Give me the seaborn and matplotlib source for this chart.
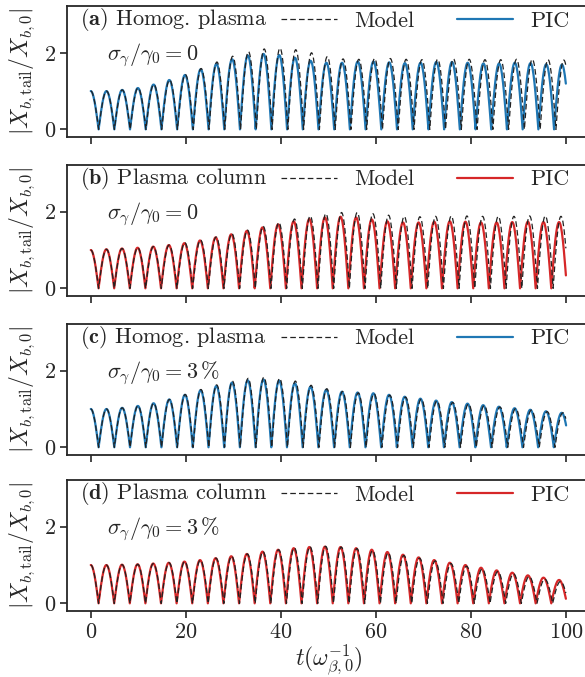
import matplotlib
matplotlib.use("Agg")
import matplotlib.pyplot as plt
import seaborn as sns
import pandas as pd
import numpy as np

# Peak heights of each |X| hump (31 humps, t = 0 ... ~99)
pic_a = [1.00, 1.00, 1.03, 1.08, 1.17, 1.29, 1.42, 1.57, 1.71, 1.83, 1.93, 1.97, 1.94, 1.87, 1.79, 1.74,
         1.74, 1.77, 1.77, 1.75, 1.73, 1.74, 1.76, 1.76, 1.74, 1.72, 1.72, 1.74, 1.73, 1.70, 1.69]
model_a = [1.00, 1.00, 1.03, 1.08, 1.17, 1.29, 1.43, 1.59, 1.76, 1.91, 2.03, 2.10, 2.12, 2.08, 2.00, 1.90,
           1.84, 1.83, 1.85, 1.85, 1.83, 1.82, 1.83, 1.84, 1.83, 1.82, 1.82, 1.83, 1.83, 1.82, 1.81]
pic_b = [1.00, 1.02, 1.04, 1.06, 1.09, 1.13, 1.18, 1.25, 1.33, 1.41, 1.50, 1.59, 1.67, 1.75, 1.81, 1.85,
         1.87, 1.85, 1.80, 1.75, 1.72, 1.72, 1.74, 1.75, 1.74, 1.72, 1.72, 1.73, 1.74, 1.73, 1.73]
model_b = [1.00, 1.02, 1.04, 1.06, 1.09, 1.13, 1.19, 1.26, 1.34, 1.43, 1.52, 1.62, 1.72, 1.81, 1.89, 1.95,
           1.98, 1.98, 1.95, 1.91, 1.88, 1.87, 1.88, 1.89, 1.89, 1.88, 1.88, 1.88, 1.89, 1.89, 1.88]
pic_c = [1.00, 1.00, 1.03, 1.08, 1.15, 1.25, 1.37, 1.49, 1.60, 1.69, 1.75, 1.77, 1.74, 1.67, 1.58, 1.50,
         1.45, 1.43, 1.41, 1.37, 1.32, 1.27, 1.22, 1.18, 1.14, 1.10, 1.06, 1.02, 0.98, 0.94, 0.90]
model_c = [1.00, 1.00, 1.03, 1.08, 1.15, 1.25, 1.38, 1.51, 1.63, 1.73, 1.80, 1.83, 1.80, 1.73, 1.62, 1.53,
           1.46, 1.42, 1.40, 1.36, 1.31, 1.26, 1.21, 1.17, 1.13, 1.09, 1.05, 1.01, 0.97, 0.93, 0.90]
pic_d = [1.00, 1.00, 1.01, 1.02, 1.04, 1.06, 1.09, 1.13, 1.18, 1.23, 1.29, 1.35, 1.40, 1.44, 1.47, 1.48,
         1.47, 1.44, 1.40, 1.34, 1.27, 1.20, 1.13, 1.06, 1.00, 0.93, 0.86, 0.80, 0.73, 0.67, 0.61]
model_d = [1.00, 1.00, 1.01, 1.02, 1.04, 1.06, 1.09, 1.13, 1.18, 1.23, 1.29, 1.35, 1.40, 1.45, 1.48, 1.49,
           1.47, 1.43, 1.38, 1.32, 1.25, 1.18, 1.11, 1.04, 0.97, 0.90, 0.83, 0.77, 0.70, 0.63, 0.57]

# time of the last hump peak for each series
last_peak_pic = [99.1, 98.5, 99.05, 98.5]
last_peak_model = [99.5, 98.9, 99.3, 98.8]

# shape of half a hump (peak -> zero)
half_hump = [1.0, 0.9952, 0.9808, 0.9569, 0.9239, 0.8819, 0.8315, 0.7730, 0.7071,
             0.6344, 0.5556, 0.4714, 0.3827, 0.2903, 0.1951, 0.0980, 0.0]

labels = [r"$\mathbf{(a)}$ Homog. plasma", r"$\mathbf{(b)}$ Plasma column",
          r"$\mathbf{(c)}$ Homog. plasma", r"$\mathbf{(d)}$ Plasma column"]
sigma_labels = [r"$\sigma_\gamma/\gamma_0 = 0$", r"$\sigma_\gamma/\gamma_0 = 0$",
                r"$\sigma_\gamma/\gamma_0 = 3\,\%$", r"$\sigma_\gamma/\gamma_0 = 3\,\%$"]
pic_colors = ["#1f77b4", "#d62728", "#1f77b4", "#d62728"]
t_end = 100


def humps(peaks, t_last):
    # chain the humps: fall from each peak to zero, then rise to the next peak
    period = t_last / (len(peaks) - 1)
    h = np.array(half_hump)
    s = np.linspace(0, 1, len(h))
    t, y = [], []
    for k, a in enumerate(peaks):
        tk = k * period
        if k > 0:
            t.extend(tk - period / 2 + s[:-1] * period / 2)
            y.extend(a * h[::-1][:-1])
        t.extend(tk + s * period / 2)
        y.extend(a * h)
    t, y = np.array(t), np.array(y)
    keep = t <= t_end
    return pd.DataFrame({"t": t[keep], "y": y[keep]})


sns.set_style("ticks")
plt.rcParams["font.family"] = "cmr10"
plt.rcParams["mathtext.fontset"] = "cm"
plt.rcParams["axes.formatter.use_mathtext"] = True
plt.rcParams["axes.linewidth"] = 1.3

fig = plt.figure(figsize=(5.85, 6.77), dpi=100)
bottoms = [0.7976, 0.5628, 0.328, 0.0975]
series = [(pic_a, model_a), (pic_b, model_b), (pic_c, model_c), (pic_d, model_d)]

for i, (pic, model) in enumerate(series):
    ax = fig.add_axes([0.1145, bottoms[i], 0.894, 0.1935])
    df_pic = humps(pic, last_peak_pic[i])
    df_model = humps(model, last_peak_model[i])
    sns.lineplot(data=df_pic, x="t", y="y", ax=ax, color=pic_colors[i], lw=1.6,
                 sort=False, estimator=None, label="PIC")
    sns.lineplot(data=df_model, x="t", y="y", ax=ax, color="#222222", lw=0.9,
                 linestyle=(0, (4.5, 2.5)), sort=False, estimator=None, label="Model")
    ax.set_xlim(-5, 105)
    ax.set_ylim(-0.2, 3.22)
    ax.set_yticks([0, 2])
    ax.set_xticks([0, 20, 40, 60, 80, 100])
    ax.tick_params(labelsize=16, length=5, width=1.2, pad=3)
    if i < 3:
        ax.set_xticklabels([])
        ax.set_xlabel("")
    else:
        ax.set_xlabel(r"$t(\omega_{\beta,0}^{-1})$", fontsize=17, labelpad=1)
    ax.set_ylabel(r"$|X_{b,\mathrm{tail}}/X_{b,0}|$", fontsize=17)
    ax.yaxis.set_label_coords(-0.058, 0.5)
    ax.text(0.025, 0.9, labels[i], transform=ax.transAxes, fontsize=16, va="center")
    ax.text(0.077, 0.625, sigma_labels[i], transform=ax.transAxes, fontsize=16, va="center")
    handles, labs = ax.get_legend_handles_labels()
    ax.legend([handles[1], handles[0]], [labs[1], labs[0]], loc="upper right",
              bbox_to_anchor=(0.978, 1.03), ncol=2, frameon=False, fontsize=16,
              handlelength=2.5, columnspacing=1.9, handletextpad=0.8, borderaxespad=0)

fig.savefig("out.png", dpi=100)
